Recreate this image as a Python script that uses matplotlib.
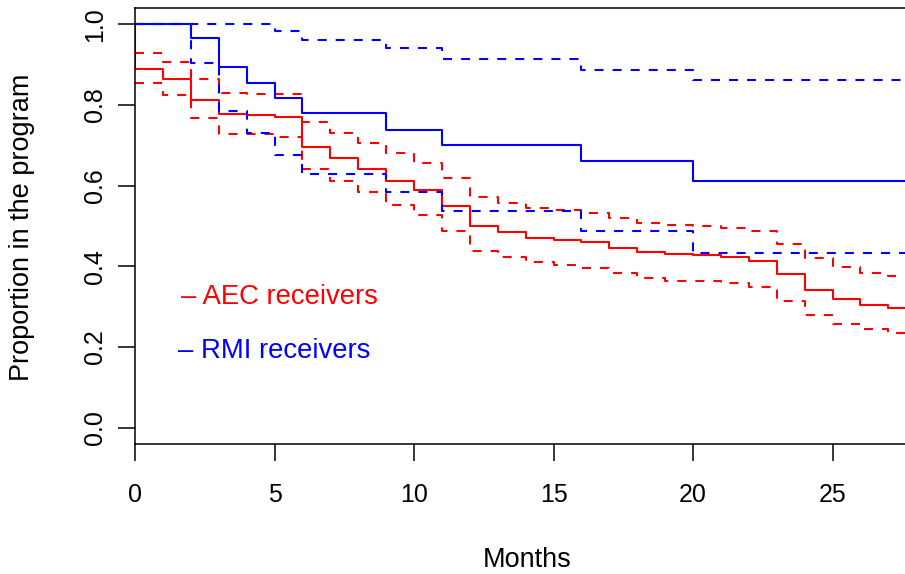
import numpy as np
import matplotlib
matplotlib.use("Agg")
import matplotlib.pyplot as plt

# Kaplan-Meier estimates (step changes at each month)
aec_months = list(range(28))
aec_surv = [0.890, 0.865, 0.813, 0.777, 0.775, 0.770, 0.696, 0.669, 0.641, 0.612,
            0.588, 0.550, 0.501, 0.484, 0.471, 0.465, 0.460, 0.446, 0.435, 0.430,
            0.428, 0.422, 0.414, 0.380, 0.342, 0.320, 0.304, 0.296]
aec_upper = [0.929, 0.907, 0.863, 0.830, 0.828, 0.826, 0.758, 0.731, 0.705, 0.680,
             0.657, 0.618, 0.573, 0.556, 0.545, 0.540, 0.533, 0.521, 0.508, 0.502,
             0.501, 0.494, 0.488, 0.455, 0.420, 0.398, 0.383, 0.375]
aec_lower = [0.855, 0.824, 0.767, 0.729, 0.727, 0.720, 0.640, 0.612, 0.583, 0.552,
             0.527, 0.488, 0.438, 0.422, 0.410, 0.403, 0.397, 0.384, 0.371, 0.365,
             0.364, 0.358, 0.350, 0.315, 0.280, 0.257, 0.244, 0.236]

rmi_months = [0, 2, 3, 4, 5, 6, 9, 11, 16, 20]
rmi_surv = [1.0, 0.966, 0.893, 0.854, 0.816, 0.779, 0.739, 0.700, 0.660, 0.612]
rmi_upper = [1.0, 1.0, 1.0, 1.0, 0.982, 0.961, 0.940, 0.914, 0.887, 0.862]
rmi_lower = [1.0, 0.905, 0.784, 0.730, 0.676, 0.630, 0.583, 0.538, 0.488, 0.434]

end_month = 28.1

plt.rcParams['font.family'] = ['Liberation Sans', 'DejaVu Sans']
plt.rcParams['lines.scale_dashes'] = False


def km_step(ax, t, s, color, dashed=False, start_at_one=False):
    t = list(t) + [end_month]
    s = list(s) + [s[-1]]
    if start_at_one:
        t = [0] + t
        s = [1.0] + s
    kw = dict(color=color, lw=1.5, where='post')
    if dashed:
        kw['dashes'] = (6.5, 6.5)
    ax.step(t, s, **kw)


fig = plt.figure(figsize=(9.05, 5.74), dpi=100)
ax = fig.add_axes([135 / 905, 1 - 444 / 574, (919 - 135) / 905, 436 / 574])

km_step(ax, aec_months, aec_surv, 'red', start_at_one=True)
km_step(ax, aec_months, aec_upper, 'red', dashed=True)
km_step(ax, aec_months, aec_lower, 'red', dashed=True)
km_step(ax, rmi_months, rmi_surv, 'blue')
km_step(ax, rmi_months, rmi_upper, 'blue', dashed=True)
km_step(ax, rmi_months, rmi_lower, 'blue', dashed=True)

ax.set_xlim(0, end_month)
ax.set_ylim(-0.04, 1.04)
ax.set_xticks([0, 5, 10, 15, 20, 25])
ax.set_yticks([0.0, 0.2, 0.4, 0.6, 0.8, 1.0])
ax.set_yticklabels(['0.0', '0.2', '0.4', '0.6', '0.8', '1.0'], rotation=90, va='center')
ax.tick_params(axis='both', length=12, width=1.1, labelsize=18, direction='out')
ax.tick_params(axis='x', pad=16)
ax.tick_params(axis='y', pad=8)
for sp in ax.spines.values():
    sp.set_linewidth(1.1)
ax.spines['right'].set_visible(False)

ax.text(1.65, 0.324, '\u2013 AEC receivers', color='red', fontsize=19.8, va='center', ha='left')
ax.text(1.55, 0.190, '\u2013 RMI receivers', color='blue', fontsize=19.8, va='center', ha='left')

fig.text(527 / 905, 1 - 560 / 574, 'Months', fontsize=19.5, ha='center', va='center')
fig.text(22 / 905, 1 - 227 / 574, 'Proportion in the program', fontsize=19.5,
         ha='center', va='center', rotation=90)

fig.savefig('out.png', dpi=100)
